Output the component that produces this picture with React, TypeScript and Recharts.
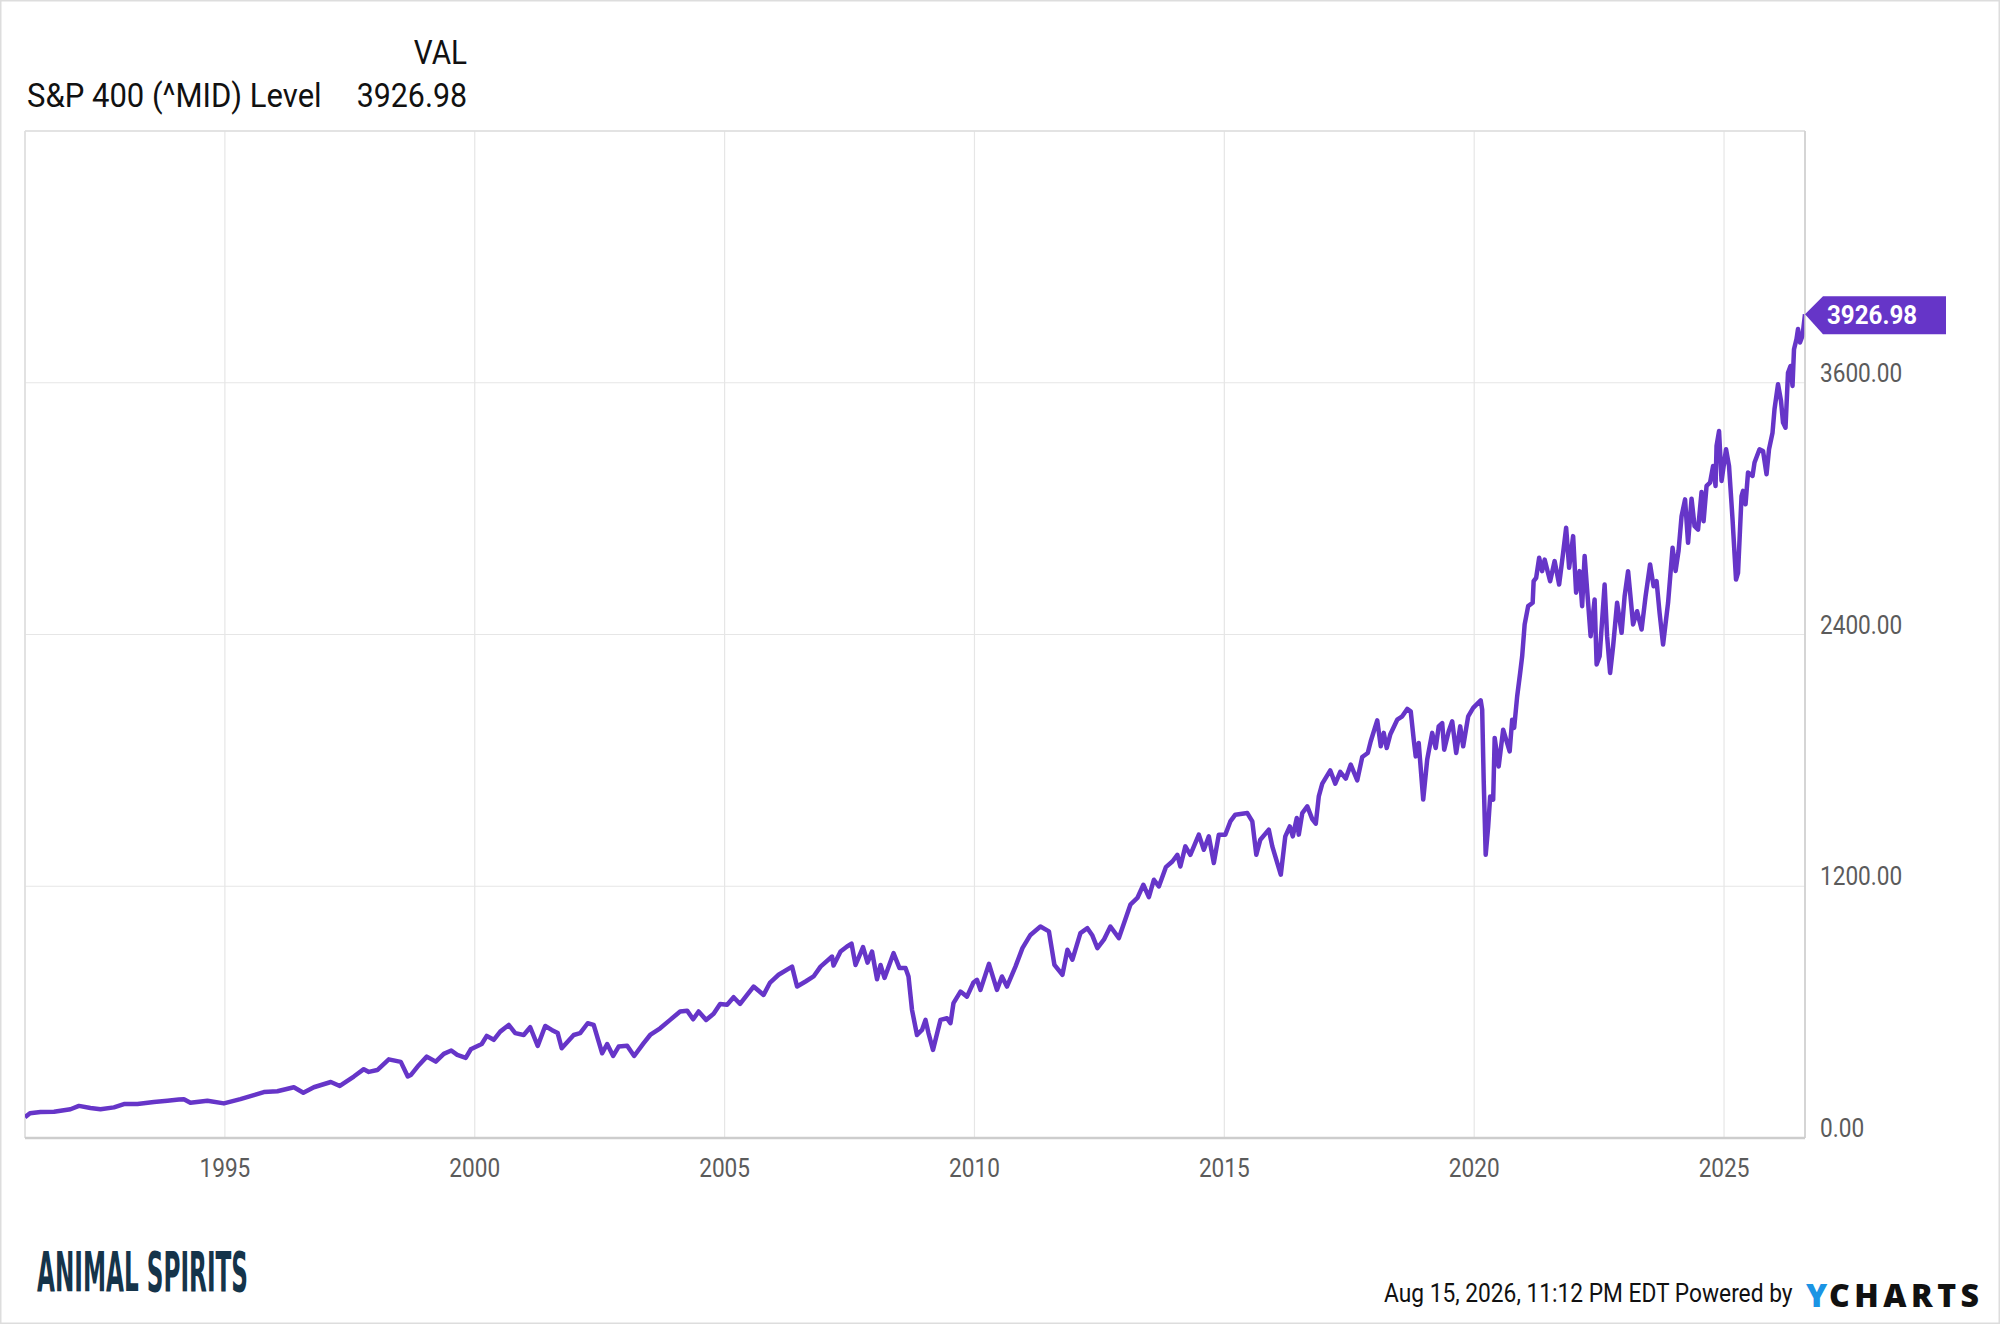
import React from "react";
import {
  LineChart,
  Line,
  XAxis,
  YAxis,
  CartesianGrid,
  ReferenceLine,
  ReferenceDot,
} from "recharts";

// ---- data ----
const times: number[] = [
  1991.0, 1991.1, 1991.31, 1991.58, 1991.91, 1992.08, 1992.31, 1992.51, 1992.78, 1992.98,
  1993.25, 1993.58, 1993.85, 1994.08, 1994.18, 1994.31, 1994.65, 1994.98, 1995.31, 1995.58,
  1995.78, 1996.05, 1996.38, 1996.57, 1996.78, 1997.12, 1997.3, 1997.58, 1997.78, 1997.88,
  1998.05, 1998.28, 1998.52, 1998.66, 1998.72, 1998.88, 1999.04, 1999.22, 1999.38, 1999.53,
  1999.65, 1999.82, 1999.92, 2000.14, 2000.24, 2000.38, 2000.51, 2000.68, 2000.81, 2000.98,
  2001.11, 2001.26, 2001.41, 2001.54, 2001.66, 2001.74, 2001.98, 2002.11, 2002.26, 2002.38,
  2002.55, 2002.65, 2002.77, 2002.88, 2003.05, 2003.19, 2003.38, 2003.51, 2003.71, 2003.91,
  2004.11, 2004.25, 2004.37, 2004.48, 2004.63, 2004.78, 2004.91, 2005.05, 2005.18, 2005.31,
  2005.45, 2005.58, 2005.78, 2005.91, 2006.08, 2006.35, 2006.45, 2006.62, 2006.78, 2006.92,
  2007.15, 2007.18, 2007.32, 2007.45, 2007.54, 2007.62, 2007.77, 2007.86, 2007.95, 2008.05,
  2008.12, 2008.2, 2008.38, 2008.5, 2008.62, 2008.68, 2008.75, 2008.85, 2008.95, 2009.02,
  2009.08, 2009.17, 2009.32, 2009.45, 2009.52, 2009.58, 2009.72, 2009.85, 2009.98, 2010.05,
  2010.12, 2010.29, 2010.45, 2010.55, 2010.65, 2010.82, 2010.96, 2011.12, 2011.32, 2011.49,
  2011.6, 2011.76, 2011.86, 2011.96, 2012.12, 2012.26, 2012.36, 2012.46, 2012.59, 2012.72,
  2012.89, 2013.12, 2013.26, 2013.38, 2013.49, 2013.59, 2013.69, 2013.83, 2013.96, 2014.06,
  2014.12, 2014.22, 2014.32, 2014.49, 2014.59, 2014.69, 2014.79, 2014.89, 2015.02, 2015.12,
  2015.22, 2015.46, 2015.56, 2015.64, 2015.72, 2015.89, 2015.96, 2016.13, 2016.22, 2016.31,
  2016.37, 2016.45, 2016.49, 2016.56, 2016.66, 2016.76, 2016.83, 2016.89, 2016.96, 2017.12,
  2017.22, 2017.32, 2017.43, 2017.53, 2017.66, 2017.76, 2017.87, 2017.93, 2018.06, 2018.13,
  2018.19, 2018.25, 2018.32, 2018.46, 2018.56, 2018.66, 2018.73, 2018.79, 2018.83, 2018.89,
  2018.98, 2019.06, 2019.16, 2019.23, 2019.29, 2019.36, 2019.4, 2019.49, 2019.56, 2019.64,
  2019.72, 2019.78, 2019.88, 2019.98, 2020.13, 2020.16, 2020.19, 2020.23, 2020.28, 2020.32,
  2020.38, 2020.41, 2020.49, 2020.58, 2020.71, 2020.76, 2020.8, 2020.86, 2020.92, 2020.96,
  2021.01, 2021.08, 2021.17, 2021.19, 2021.24, 2021.3, 2021.36, 2021.41, 2021.52, 2021.61,
  2021.7, 2021.78, 2021.84, 2021.9, 2021.98, 2022.04, 2022.11, 2022.16, 2022.21, 2022.26,
  2022.33, 2022.41, 2022.45, 2022.51, 2022.61, 2022.66, 2022.72, 2022.78, 2022.86, 2022.95,
  2023.01, 2023.08, 2023.18, 2023.26, 2023.35, 2023.43, 2023.52, 2023.59, 2023.65, 2023.71,
  2023.78, 2023.88, 2023.97, 2024.03, 2024.09, 2024.15, 2024.22, 2024.28, 2024.35, 2024.41,
  2024.48, 2024.55, 2024.59, 2024.65, 2024.72, 2024.78, 2024.83, 2024.85, 2024.9, 2024.95,
  2025.04, 2025.1, 2025.17, 2025.24, 2025.28, 2025.35, 2025.38, 2025.43, 2025.48, 2025.57,
  2025.61, 2025.71, 2025.78, 2025.85, 2025.9, 2025.97, 2026.01, 2026.08, 2026.14, 2026.18,
  2026.23, 2026.28, 2026.33, 2026.37, 2026.4, 2026.45, 2026.48, 2026.52, 2026.57, 2026.62,
];

const levels: number[] = [
  99, 118, 124, 125, 137, 153, 143, 137, 146, 162,
  162, 172, 178, 184, 185, 168, 178, 165, 185, 204,
  219, 223, 242, 216, 242, 267, 248, 293, 328, 315,
  324, 375, 363, 293, 300, 347, 388, 364, 401, 417,
  396, 382, 423, 448, 487, 468, 507, 539, 500, 491,
  528, 439, 534, 515, 500, 428, 491, 500, 547, 539,
  404, 448, 391, 436, 440, 391, 452, 491, 523, 563,
  603, 607, 566, 603, 563, 592, 639, 635, 671, 639,
  682, 722, 682, 741, 778, 817, 722, 746, 770, 817,
  865, 822, 889, 913, 926, 825, 910, 836, 889, 757,
  825, 763, 881, 810, 810, 770, 611, 491, 515, 563,
  500, 420, 563, 571, 547, 643, 698, 674, 741, 754,
  706, 830, 706, 770, 722, 817, 905, 968, 1008, 985,
  825, 778, 897, 850, 977, 1000, 965, 905, 945, 1008,
  953, 1112, 1144, 1207, 1148, 1231, 1199, 1291, 1318, 1350,
  1294, 1390, 1350, 1446, 1374, 1438, 1311, 1446, 1446, 1509,
  1541, 1549, 1509, 1350, 1422, 1470, 1390, 1255, 1438, 1485,
  1438, 1525, 1446, 1549, 1581, 1520, 1498, 1628, 1689, 1752,
  1689, 1745, 1713, 1780, 1705, 1816, 1835, 1891, 1991, 1867,
  1931, 1859, 1923, 1994, 2010, 2045, 2034, 1899, 1819, 1883,
  1613, 1804, 1931, 1859, 1962, 1978, 1851, 1939, 1986, 1835,
  1962, 1867, 2010, 2050, 2086, 2042, 1708, 1350, 1485, 1628,
  1613, 1907, 1771, 1946, 1843, 1994, 1955, 2105, 2217, 2296,
  2448, 2535, 2551, 2654, 2670, 2766, 2702, 2757, 2654, 2750,
  2638, 2790, 2909, 2718, 2869, 2599, 2702, 2535, 2774, 2614,
  2392, 2567, 2257, 2296, 2638, 2392, 2217, 2344, 2551, 2408,
  2582, 2702, 2448, 2511, 2424, 2582, 2734, 2630, 2654, 2503,
  2352, 2551, 2813, 2703, 2800, 2964, 3044, 2837, 3047, 2916,
  2900, 3079, 2940, 3108, 3124, 3203, 3108, 3299, 3370, 3132,
  3283, 3203, 2949, 2662, 2694, 3060, 3085, 3021, 3172, 3156,
  3220, 3283, 3275, 3164, 3283, 3362, 3474, 3593, 3513, 3410,
  3386, 3648, 3680, 3585, 3760, 3808, 3856, 3792, 3824, 3926.98,
];

const xTicks: number[] = [1995, 2000, 2005, 2010, 2015, 2020, 2025];
const yTicks: number[] = [0, 1200, 2400, 3600];
const xDomain: [number, number] = [1991.0, 2026.62];
const yDomain: [number, number] = [0, 4800];

const seriesName = "S&P 400 (^MID) Level";
const lastValueLabel = "3926.98";
const footerText = "Aug 15, 2026, 11:12 PM EDT Powered by";

const data = times.map((t, i) => ({ t, v: levels[i] }));
const lastPoint = data[data.length - 1];

const LINE_COLOR = "#6635c8";
const FONT = "Roboto, 'Noto Sans', sans-serif";

const XTick = (props: any) => {
  const { x, y, payload } = props;
  return (
    <g transform={`translate(${x},${y + 39}) scale(0.87,1)`}>
      <text x={0} y={0} textAnchor="middle" fill="#5b5b5b" fontSize={26} fontFamily={FONT}>
        {payload.value}
      </text>
    </g>
  );
};

const YTick = (props: any) => {
  const { x, y, payload } = props;
  return (
    <g transform={`translate(${x + 15},${y - 1}) scale(0.87,1)`}>
      <text x={0} y={0} textAnchor="start" fill="#5b5b5b" fontSize={26} fontFamily={FONT}>
        {Number(payload.value).toFixed(2)}
      </text>
    </g>
  );
};

const TagShape = (props: any) => {
  const { cx, cy } = props;
  if (cx == null || cy == null) return null;
  const pts = [
    [cx, cy],
    [cx + 18, cy - 18],
    [cx + 141, cy - 18],
    [cx + 141, cy + 20],
    [cx + 18, cy + 20],
  ]
    .map((p) => p.join(","))
    .join(" ");
  return (
    <g>
      <polygon points={pts} fill={LINE_COLOR} />
      <g transform={`translate(${cx + 22},${cy + 10}) scale(0.93,1)`}>
        <text x={0} y={0} fill="#ffffff" fontSize={26} fontWeight={700} fontFamily={FONT}>
          {lastValueLabel}
        </text>
      </g>
    </g>
  );
};

export default function App() {
  return (
    <div
      style={{
        position: "absolute",
        left: 0,
        top: 0,
        width: 2000,
        height: 1324,
        background: "#ffffff",
        overflow: "hidden",
      }}
    >
      <LineChart
        width={2000}
        height={1324}
        data={data}
        margin={{ top: 131, right: 0, bottom: 126, left: 25 }}
      >
        <CartesianGrid stroke="#e6e6e6" strokeWidth={1.2} />
        <XAxis
          dataKey="t"
          type="number"
          domain={xDomain}
          ticks={xTicks}
          allowDataOverflow
          height={60}
          tickLine={false}
          tickSize={0}
          tickMargin={0}
          axisLine={{ stroke: "#cdcdcd", strokeWidth: 2.5 }}
          tick={<XTick />}
          interval={0}
        />
        <YAxis
          orientation="right"
          type="number"
          domain={yDomain}
          ticks={yTicks}
          allowDataOverflow
          width={195}
          tickLine={false}
          tickSize={0}
          tickMargin={0}
          axisLine={{ stroke: "#cdcdcd", strokeWidth: 1.5 }}
          tick={<YTick />}
          interval={0}
        />
        <ReferenceLine y={yDomain[1]} stroke="#dedede" strokeWidth={1.5} />
        <ReferenceLine x={xDomain[0]} stroke="#dedede" strokeWidth={1.5} />
        <Line
          type="linear"
          dataKey="v"
          stroke={LINE_COLOR}
          strokeWidth={4.5}
          dot={false}
          activeDot={false}
          isAnimationActive={false}
          strokeLinejoin="round"
        />
        <ReferenceDot
          x={lastPoint.t}
          y={lastPoint.v}
          ifOverflow="visible"
          shape={<TagShape />}
        />
      </LineChart>

      <svg
        width={2000}
        height={1324}
        style={{ position: "absolute", left: 0, top: 0, pointerEvents: "none" }}
      >
        <rect x={0.75} y={0.75} width={1998.5} height={1322.5} fill="none" stroke="#dddddd" strokeWidth={1.5} />
        <g transform="translate(467,64) scale(0.9,1)">
          <text x={0} y={0} textAnchor="end" fontSize={33} fontFamily={FONT} fill="#111111">
            VAL
          </text>
        </g>
        <g transform="translate(27,107) scale(0.94,1)">
          <text x={0} y={0} fontSize={33} fontFamily={FONT} fill="#111111">
            {seriesName}
          </text>
        </g>
        <g transform="translate(467,107) scale(0.92,1)">
          <text x={0} y={0} textAnchor="end" fontSize={33} fontFamily={FONT} fill="#111111">
            {lastValueLabel}
          </text>
        </g>

        <g transform="translate(37,1291) scale(0.46,1)">
          <text
            x={0}
            y={0}
            fontSize={56}
            fontFamily="'DejaVu Sans Condensed', 'DejaVu Sans', sans-serif"
            fontWeight={700}
            fill="#15344a"
          >
            ANIMAL SPIRITS
          </text>
        </g>

        <g transform="translate(1384,1302) scale(0.875,1)">
          <text x={0} y={0} fontSize={26} fontFamily={FONT} fill="#111111">
            {footerText}
          </text>
        </g>
        <text
          x={1806}
          y={1307}
          fontSize={32}
          fontFamily="'Open Sans', Roboto, sans-serif"
          fontWeight={800}
          fill="#1b94e4"
        >
          Y
        </text>
        <text
          x={1829}
          y={1307}
          fontSize={32}
          fontFamily="'Open Sans', Roboto, sans-serif"
          fontWeight={800}
          fill="#111111"
          letterSpacing={4.5}
        >
          CHARTS
        </text>
      </svg>
    </div>
  );
}
